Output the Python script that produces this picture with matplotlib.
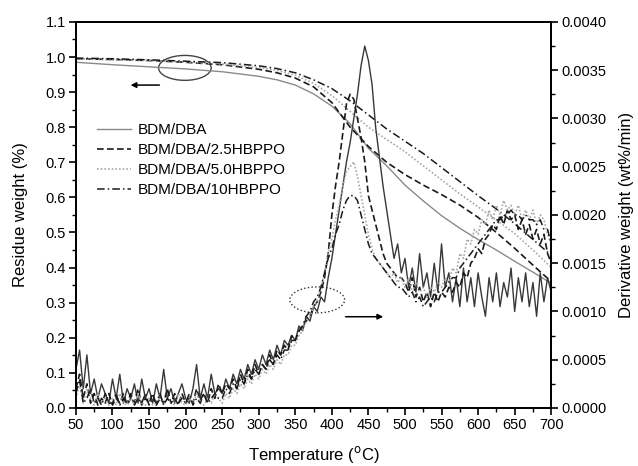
import numpy as np
import matplotlib
matplotlib.use('Agg')
import matplotlib.pyplot as plt
from matplotlib.patches import Ellipse
from matplotlib.ticker import MultipleLocator, FormatStrFormatter

plt.rcParams['font.family'] = ['Liberation Sans', 'DejaVu Sans']

labels = ['BDM/DBA', 'BDM/DBA/2.5HBPPO', 'BDM/DBA/5.0HBPPO', 'BDM/DBA/10HBPPO']

# TGA residue weight (left axis)
tga_temp = [50, 100, 150, 200, 250, 300, 325, 350, 375, 400, 425, 450, 475,
            500, 525, 550, 575, 600, 625, 650, 675, 700]
tga_neat = [0.985, 0.978, 0.972, 0.966, 0.958, 0.945, 0.935, 0.92, 0.895, 0.86, 0.81,
            0.74, 0.69, 0.635, 0.59, 0.548, 0.512, 0.48, 0.45, 0.418, 0.387, 0.355]
tga_25 = [0.995, 0.993, 0.99, 0.985, 0.978, 0.965, 0.955, 0.94, 0.915, 0.87, 0.80,
          0.745, 0.70, 0.665, 0.635, 0.608, 0.578, 0.543, 0.50, 0.455, 0.407, 0.36]
tga_50 = [0.995, 0.992, 0.99, 0.986, 0.98, 0.97, 0.962, 0.948, 0.925, 0.89, 0.845,
          0.80, 0.765, 0.73, 0.69, 0.65, 0.61, 0.573, 0.535, 0.497, 0.45, 0.40]
tga_10 = [0.997, 0.995, 0.992, 0.988, 0.984, 0.975, 0.967, 0.955, 0.935, 0.91, 0.875,
          0.835, 0.795, 0.76, 0.725, 0.685, 0.645, 0.605, 0.567, 0.525, 0.48, 0.435]

# DTG derivative weight (right axis), units of 1e-4 wt%/min, every 5 C from 50 to 700
dtg_temp = np.arange(50, 701, 5)
dtg_neat = [4, 6, 2, 5.5, 1.5, 3, 1, 2.5, 1.5, 0.5,
            3, 1, 3.5, 0.5, 2, 1, 2.5, 0.5, 3, 1,
            2, 0.5, 2.5, 1, 4, 1, 2, 0.5, 1.5, 2.5,
            1, 0.5, 2, 4.5, 1, 2.5, 1, 3.5, 1.5, 2,
            1.5, 3, 2, 3.5, 2.5, 4, 3, 4.5, 3.5, 5,
            4, 5.5, 4.5, 6, 5, 6.5, 5.5, 7, 6.5, 7.5,
            7, 8.5, 8, 9.5, 9, 10.5, 10, 11.5, 11, 13.5,
            15.5, 18, 20.5, 23, 25.5, 27.5, 30, 32.5, 35.5, 37.5,
            36, 33.5, 29, 26, 23, 20.5, 18, 15.5, 17, 14,
            15.5, 12.5, 14.5, 12, 16, 12.5, 14, 11.5, 15, 12,
            17, 12.5, 14, 11, 13.5, 10.5, 14.5, 11, 13.5, 10.5,
            14, 11.5, 9.5, 13.5, 11, 14, 10.5, 13, 11.5, 14.5,
            10, 13.5, 11, 14, 10.5, 13, 9.5, 14, 11, 13.5,
            12]
dtg_25 = [2, 3.5, 1, 2.5, 0.5, 1.5, 0.3, 1, 0.5, 1.5,
          0.3, 1, 0.5, 1.5, 0.3, 1, 0.5, 2, 0.3, 1,
          0.5, 1.5, 0.3, 1, 0.5, 2, 0.5, 1, 0.3, 1.5,
          0.5, 1, 0.5, 2, 0.8, 1.5, 0.5, 2, 1, 2.5,
          1.5, 2.5, 2, 3, 2, 3.5, 2.5, 4, 3, 4.5,
          3.5, 4.5, 4, 5.5, 4.5, 6, 5.5, 6.5, 6, 7.5,
          7, 8, 8.5, 9, 9.5, 10.5, 11, 12, 13.5, 16,
          20, 23, 25.5, 28.5, 31.5, 32.5, 32, 30, 28, 25.5,
          22, 20.5, 19, 17.5, 16, 15, 14.5, 14, 13.5, 13.5,
          13, 12, 13.5, 11.5, 12.5, 11, 12, 10.5, 12, 11,
          12, 11.5, 12.5, 12, 13, 12.5, 14, 13.5, 15, 15.5,
          16.5, 16, 17.5, 18, 19, 18.5, 20, 19, 20.5, 19.5,
          20, 18.5, 19.5, 18, 19, 17.5, 18.5, 17, 18, 16,
          15]
dtg_50 = [1, 2.5, 0.5, 2, 1, 0.3, 1.5, 0.5, 1, 0.3,
          1, 0.3, 1.5, 0.5, 0.3, 1, 0.3, 1.5, 0.5, 0.3,
          1, 0.3, 0.5, 1.5, 0.3, 1, 0.5, 0.3, 1.5, 0.5,
          0.3, 1, 0.5, 1.5, 0.5, 0.3, 1, 0.5, 1.5, 1,
          0.5, 1.5, 1, 2, 1.5, 2.5, 2, 3, 2.5, 3.5,
          3, 4, 3.5, 4.5, 4, 5, 4.5, 5.5, 5.5, 6.5,
          6.5, 7.5, 8, 9, 9.5, 10.5, 11, 12.5, 14, 16,
          17.5, 19.5, 21, 23, 24.5, 25, 25.5, 24, 22, 20,
          18, 16.5, 15.5, 15, 14.5, 14, 13.5, 14, 13, 13.5,
          12.5, 13.5, 12, 13, 12, 12.5, 11.5, 12.5, 12, 13,
          12.5, 13.5, 13, 14.5, 14, 16, 15.5, 17.5, 17, 18.5,
          18, 19.5, 19, 20.5, 19.5, 21, 20, 21.5, 20.5, 21,
          20, 21, 19.5, 20.5, 19.5, 20.5, 19, 20, 19.5, 18,
          17]
dtg_10 = [1.5, 3, 0.5, 1, 2, 0.5, 1, 0.3, 1.5, 0.5,
          0.5, 1.5, 0.3, 1, 0.5, 1.5, 0.3, 1, 0.5, 1.5,
          0.3, 1, 0.5, 1.5, 0.3, 1, 0.5, 1.5, 0.5, 1,
          0.5, 1.5, 0.3, 1, 0.5, 1.5, 0.5, 1, 1.5, 1,
          1, 2, 1.5, 2.5, 2, 3, 2.5, 3.5, 3, 4,
          3.5, 4.5, 4, 5, 4.5, 5.5, 5, 6, 6, 7,
          7, 8, 8.5, 9.5, 10, 11, 11.5, 12.5, 14, 15.5,
          16.5, 18, 19, 20.5, 21.5, 22, 22, 21.5, 20, 18.5,
          17, 16, 15.5, 15, 14.5, 14, 13.5, 13, 12.5, 12.5,
          12, 11.5, 12, 11, 11.5, 10.5, 11, 11.5, 11, 12,
          12, 12.5, 13, 13.5, 13.5, 14.5, 15, 15.5, 16, 16.5,
          17, 17.5, 18, 18.5, 19, 19.5, 19.5, 20, 20, 20.5,
          20, 20, 19.5, 20, 19.5, 19.5, 19, 19.5, 18.5, 18.5,
          17]

styles = [
    dict(color='#8a8a8a', ls='-', lw=1.0),
    dict(color='#1a1a1a', ls=(0, (4, 2)), lw=1.2),
    dict(color='#a8a8a8', ls=(0, (1, 1.2)), lw=1.2),
    dict(color='#1a1a1a', ls=(0, (5, 2, 1, 2)), lw=1.1),
]

fig = plt.figure(figsize=(6.38, 4.66), dpi=100)
ax = fig.add_axes([0.119, 0.1245, 0.745, 0.8285])
ax2 = ax.twinx()

for y, lab, st in zip([tga_neat, tga_25, tga_50, tga_10], labels, styles):
    ax.plot(tga_temp, y, label=lab, **st)

dtg_colors = ['#383838', '#1a1a1a', '#a8a8a8', '#1a1a1a']
for y, st, c in zip([dtg_neat, dtg_25, dtg_50, dtg_10], styles, dtg_colors):
    s = dict(st)
    s['color'] = c
    ax2.plot(dtg_temp, np.array(y) * 1e-4, **s)

# annotations: ellipses and arrows
ax.add_patch(Ellipse((199, 0.969), 72, 0.071, fill=False, ec='#444444', lw=1.0))
ax.add_patch(Ellipse((380, 0.308), 75, 0.074, fill=False, ec='#333333', lw=1.0, ls=':'))
ax.annotate('', xy=(121, 0.92), xytext=(168, 0.92),
            arrowprops=dict(arrowstyle='-|>', color='k', lw=1.1, mutation_scale=8))
ax.annotate('', xy=(474, 0.26), xytext=(415, 0.26),
            arrowprops=dict(arrowstyle='-|>', color='k', lw=1.1, mutation_scale=8))

ax.set_xlim(50, 700)
ax.set_ylim(0, 1.1)
ax2.set_ylim(0, 0.004)

ax.xaxis.set_major_locator(MultipleLocator(50))
ax.xaxis.set_minor_locator(MultipleLocator(25))
ax.yaxis.set_major_locator(MultipleLocator(0.1))
ax.yaxis.set_minor_locator(MultipleLocator(0.05))
ax.yaxis.set_major_formatter(FormatStrFormatter('%.1f'))
ax2.yaxis.set_major_locator(MultipleLocator(0.0005))
ax2.yaxis.set_minor_locator(MultipleLocator(0.00025))
ax2.yaxis.set_major_formatter(FormatStrFormatter('%.4f'))

for a in (ax, ax2):
    for sp in a.spines.values():
        sp.set_linewidth(1.3)
    a.tick_params(which='major', direction='out', length=5, width=1.2, labelsize=10.5, pad=2)
    a.tick_params(which='minor', direction='out', length=3, width=1.0)
ax.tick_params(top=False, which='both')

ax.set_xlabel('Temperature ($^{\\mathrm{o}}$C)', fontsize=12, labelpad=9)
ax.set_ylabel('Residue weight (%)', fontsize=12, labelpad=13)
ax2.set_ylabel('Derivative weight (wt%/min)', fontsize=12, labelpad=9)

ax.legend(loc='upper left', bbox_to_anchor=(0.045, 0.737), frameon=False, fontsize=11,
          handlelength=2.2, handletextpad=0.45, labelspacing=0.38, borderpad=0, borderaxespad=0)

fig.savefig('out.png', dpi=100)
